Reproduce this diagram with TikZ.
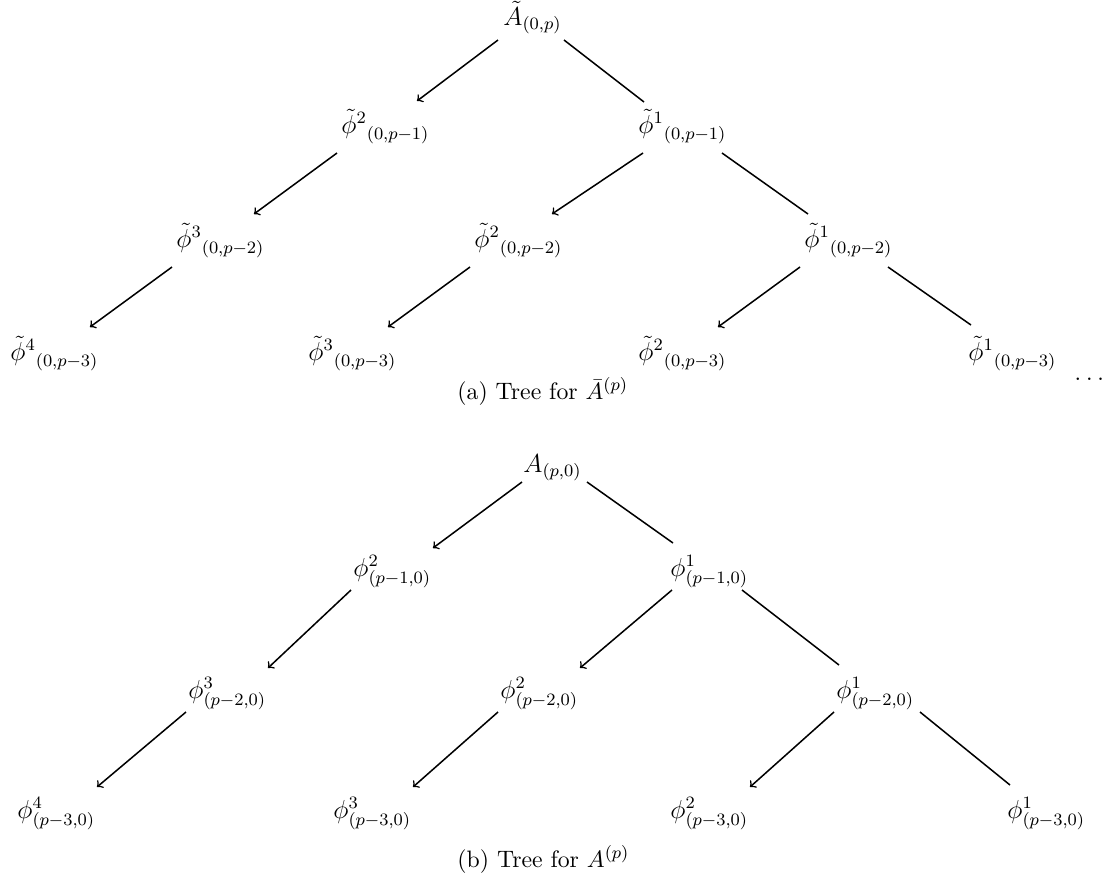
\documentclass[tikz,border=0pt]{standalone}
\usepackage{amsmath}
\begin{document}
\begin{tikzpicture}[x=0.4608pt,y=-0.4608pt,
  lab/.style={anchor=base west,inner sep=0pt,font=\large},
  captext/.style={anchor=base west,inner sep=0pt,font=\fontsize{10.95}{13.6}\selectfont},
  arr/.style={->,line width=0.7pt},
  ln/.style={line width=0.7pt}]
\useasboundingbox (0,0) rectangle (1109,882);
% ---------- tree (a)
\node[lab] (ta) at (503,25) {$\tilde{A}_{(0,p)}$};
\node[lab] (ta1) at (341,133) {${\tilde{\phi}^{2}{}}_{(0,p-1)}$};
\node[lab] (ta2) at (638,133) {${\tilde{\phi}^{1}{}}_{(0,p-1)}$};
\node[lab] (ta3) at (176,247) {${\tilde{\phi}^{3}{}}_{(0,p-2)}$};
\node[lab] (ta4) at (474,247) {${\tilde{\phi}^{2}{}}_{(0,p-2)}$};
\node[lab] (ta5) at (804,247) {${\tilde{\phi}^{1}{}}_{(0,p-2)}$};
\node[lab] (ta6) at (10,360) {${\tilde{\phi}^{4}{}}_{(0,p-3)}$};
\node[lab] (ta7) at (308,360) {${\tilde{\phi}^{3}{}}_{(0,p-3)}$};
\node[lab] (ta8) at (638,360) {${\tilde{\phi}^{2}{}}_{(0,p-3)}$};
\node[lab] (ta9) at (968,360) {${\tilde{\phi}^{1}{}}_{(0,p-3)}$};
\node[lab] (tdots) at (1074,380) {$\dots$};
\node[captext] (capa) at (457,399) {(a) Tree for $\bar{A}^{(p)}$};
\draw[arr] ([shift={(-5,15)}]ta.base west) -- ([shift={(76,-32)}]ta1.base west);
\draw[ln]  ([shift={(61,15)}]ta.base west) -- ([shift={(6,-31)}]ta2.base west);
\draw[arr] ([shift={(-4,20)}]ta1.base west) -- ([shift={(78,-33)}]ta3.base west);
\draw[arr] ([shift={(5,20)}]ta2.base west) -- ([shift={(78,-33)}]ta4.base west);
\draw[ln]  ([shift={(84,20)}]ta2.base west) -- ([shift={(4,-33)}]ta5.base west);
\draw[arr] ([shift={(-4,20)}]ta3.base west) -- ([shift={(80,-33)}]ta6.base west);
\draw[arr] ([shift={(-4,20)}]ta4.base west) -- ([shift={(80,-33)}]ta7.base west);
\draw[arr] ([shift={(-4,20)}]ta5.base west) -- ([shift={(80,-33)}]ta8.base west);
\draw[ln]  ([shift={(84,20)}]ta5.base west) -- ([shift={(3,-35)}]ta9.base west);
% ---------- tree (b)
\node[lab] (tb) at (523,472) {$A_{(p,0)}$};
\node[lab] (tb1) at (353,576) {$\phi^{2}_{(p-1,0)}$};
\node[lab] (tb2) at (670,576) {$\phi^{1}_{(p-1,0)}$};
\node[lab] (tb3) at (188,698) {$\phi^{3}_{(p-2,0)}$};
\node[lab] (tb4) at (500,698) {$\phi^{2}_{(p-2,0)}$};
\node[lab] (tb5) at (836,698) {$\phi^{1}_{(p-2,0)}$};
\node[lab] (tb6) at (17,818) {$\phi^{4}_{(p-3,0)}$};
\node[lab] (tb7) at (333,818) {$\phi^{3}_{(p-3,0)}$};
\node[lab] (tb8) at (670,818) {$\phi^{2}_{(p-3,0)}$};
\node[lab] (tb9) at (1007,818) {$\phi^{1}_{(p-3,0)}$};
\node[captext] (capb) at (457,867) {(b) Tree for $A^{(p)}$};
\draw[arr] ([shift={(-1,10)}]tb.base west) -- ([shift={(80,-28)}]tb1.base west);
\draw[ln]  ([shift={(64,10)}]tb.base west) -- ([shift={(3,-33)}]tb2.base west);
\draw[arr] ([shift={(-2,14)}]tb1.base west) -- ([shift={(80,-30)}]tb3.base west);
\draw[arr] ([shift={(2,14)}]tb2.base west) -- ([shift={(80,-30)}]tb4.base west);
\draw[ln]  ([shift={(72,14)}]tb2.base west) -- ([shift={(3,-33)}]tb5.base west);
\draw[arr] ([shift={(-2,14)}]tb3.base west) -- ([shift={(80,-31)}]tb6.base west);
\draw[arr] ([shift={(-2,14)}]tb4.base west) -- ([shift={(80,-31)}]tb7.base west);
\draw[arr] ([shift={(-2,14)}]tb5.base west) -- ([shift={(80,-31)}]tb8.base west);
\draw[ln]  ([shift={(84,14)}]tb5.base west) -- ([shift={(3,-33)}]tb9.base west);
\end{tikzpicture}
\end{document}
